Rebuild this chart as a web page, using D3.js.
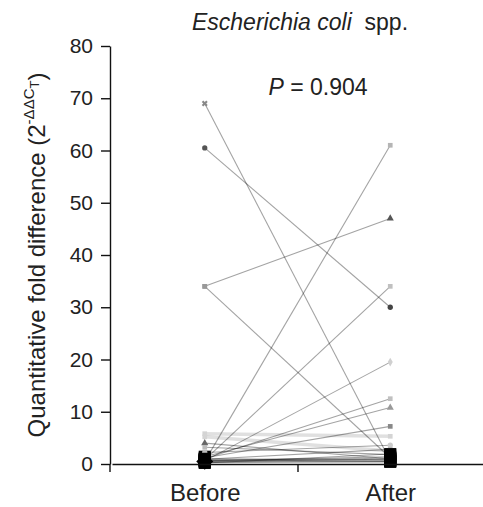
<!DOCTYPE html>
<html>
<head>
<meta charset="utf-8">
<script src="https://cdn.jsdelivr.net/npm/d3@7"></script>
<style>
  body { margin: 0; background: #fff; }
  svg text { font-family: "Liberation Sans", Arial, sans-serif; fill: #222; }
  .axis path, .axis line { stroke: #111; stroke-width: 1.4; }
  .axis text { font-size: 21px; fill: #222; }
</style>
</head>
<body>
<svg width="483" height="507"></svg>
<script>
// categorieen op de x-as
const groups = ["Before", "After"];

// waarden per patient, voor en na
const beforeVals = [69, 60.5, 34, 34, 0.5, 0.8, 0.6, 1.0, 1.4, 1.2, 5.8, 5.2, 4.0, 3.2, 2.2, 0.9, 0.5, 0.7, 0.4, 1.0, 0.3, 0.6, 0.8, 0.2];
const afterVals  = [0.6, 30, 47, 1.2, 61, 34, 19.5, 12.5, 10.8, 7.2, 5.3, 2.5, 1.0, 1.8, 3.6, 2.8, 0.9, 1.1, 0.6, 0.8, 0.4, 1.4, 0.5, 1.9];

// y-as ticks
const yTicks = [0, 10, 20, 30, 40, 50, 60, 70, 80];

const pValue = "0.904";

// marker stijlen per patient (vorm, kleur), apart voor en na
const S = d3.symbolSquare, C = d3.symbolCircle, T = d3.symbolTriangle, X = d3.symbolCross, D = d3.symbolDiamond;
const shapesBefore = [X, C, S, S, S, S, S, S, S, S, S, S, T, S, C, S];
const shadesBefore = ["#888", "#555", "#999", "#999", "#aaa", "#aaa", "#aaa", "#aaa", "#aaa", "#aaa", "#d4d4d4", "#d4d4d4", "#666", "#bbb", "#bbb", "#aaa"];
const shapesAfter = [S, C, T, S, S, S, D, S, T, S, S, S, S, S, C, S];
const shadesAfter = ["#aaa", "#444", "#555", "#999", "#b5b5b5", "#c0c0c0", "#d0d0d0", "#c0c0c0", "#999", "#888", "#d4d4d4", "#bbb", "#aaa", "#bbb", "#ccc", "#bbb"];

const svg = d3.select("svg");

const margin = { top: 46, right: 0, bottom: 43, left: 110 };
const width = +svg.attr("width");
const height = +svg.attr("height");

const xScale = d3.scaleLinear()
  .domain([0.5, 2.5])
  .range([margin.left + 2, width]);

const yScale = d3.scaleLinear()
  .domain([0, 80])
  .range([height - margin.bottom, margin.top]);

const data = beforeVals.map((b, i) => ({ id: i, before: b, after: afterVals[i] }));

// lijnen eerst, markers erover
const lines = svg.append("g");
lines.selectAll("line")
  .data(data)
  .enter()
  .append("line")
  .attr("x1", xScale(1))
  .attr("x2", xScale(2))
  .attr("y1", d => yScale(d.before))
  .attr("y2", d => yScale(d.after))
  .attr("stroke", "#000")
  .attr("stroke-width", d => (d.id === 10 || d.id === 11) ? 3.5 : 1.1)
  .attr("stroke-opacity", d => (d.id === 10 || d.id === 11) ? 0.12 : 0.36);

// markers: kleine waarden (<2) worden zwarte vierkantjes die samen een blok vormen
function markerPath(d, v, gi) {
  if (v < 2) return d3.symbol(S, 144)();
  const shapes = gi === 0 ? shapesBefore : shapesAfter;
  return d3.symbol(shapes[d.id % shapes.length], 22)();
}
function markerFill(d, v, gi) {
  if (v < 2) return "#000";
  const shades = gi === 0 ? shadesBefore : shadesAfter;
  return shades[d.id % shades.length];
}

const markers = svg.append("g");
groups.forEach((grp, gi) => {
  const key = gi === 0 ? "before" : "after";
  markers.selectAll("path.m" + gi)
    .data(data)
    .enter()
    .append("path")
    .attr("class", "m" + gi)
    .attr("transform", d => {
      const rot = (gi === 0 && shapesBefore[d.id % shapesBefore.length] === X) ? " rotate(45)" : "";
      return `translate(${xScale(gi + 1)},${yScale(d[key])})${rot}`;
    })
    .attr("d", d => markerPath(d, d[key], gi))
    .attr("fill", d => markerFill(d, d[key], gi));
});

// y-as
const yAxis = d3.axisLeft(yScale)
  .tickValues(yTicks)
  .tickSize(9)
  .tickSizeOuter(0)
  .tickPadding(8);

svg.append("g")
  .attr("class", "axis")
  .attr("transform", `translate(${margin.left},0)`)
  .call(yAxis);

// y-as loopt iets onder de nul door
svg.append("line")
  .attr("x1", margin.left).attr("x2", margin.left)
  .attr("y1", yScale(0)).attr("y2", yScale(0) + 8)
  .attr("stroke", "#111").attr("stroke-width", 1.4);

// x-as
const xAxis = d3.axisBottom(xScale)
  .tickValues([1, 1.5, 2])
  .tickFormat(d => d === 1 ? groups[0] : d === 2 ? groups[1] : "")
  .tickSize(8)
  .tickSizeOuter(0)
  .tickPadding(12);

const gx = svg.append("g")
  .attr("class", "axis")
  .attr("transform", `translate(0,${yScale(0)})`)
  .call(xAxis);

gx.selectAll(".tick line").attr("y2", d => d === 1.5 ? 8 : 0);
gx.selectAll(".tick text").style("font-size", "24px");

// titel
const title = svg.append("text")
  .attr("x", 300)
  .attr("y", 30)
  .attr("text-anchor", "middle")
  .style("font-size", "23px");
title.append("tspan").style("font-style", "italic").text("Escherichia coli");
title.append("tspan").text("\u00a0 spp.");

// P waarde
const pText = svg.append("text")
  .attr("x", 318)
  .attr("y", 95)
  .attr("text-anchor", "middle")
  .style("font-size", "23px");
pText.append("tspan").style("font-style", "italic").text("P");
pText.append("tspan").text(" = " + pValue);

// y label
const yLabel = svg.append("text")
  .attr("transform", `translate(45,${(yScale(0) + yScale(80)) / 2}) rotate(-90)`)
  .attr("text-anchor", "middle")
  .style("font-size", "24px");
yLabel.append("tspan").text("Quantitative fold difference (2");
yLabel.append("tspan").attr("dy", -11).style("font-size", "15px").text("-\u0394\u0394C");
yLabel.append("tspan").attr("dy", 5).style("font-size", "13px").text("T");
yLabel.append("tspan").attr("dy", 6).text(")");
</script>
</body>
</html>
